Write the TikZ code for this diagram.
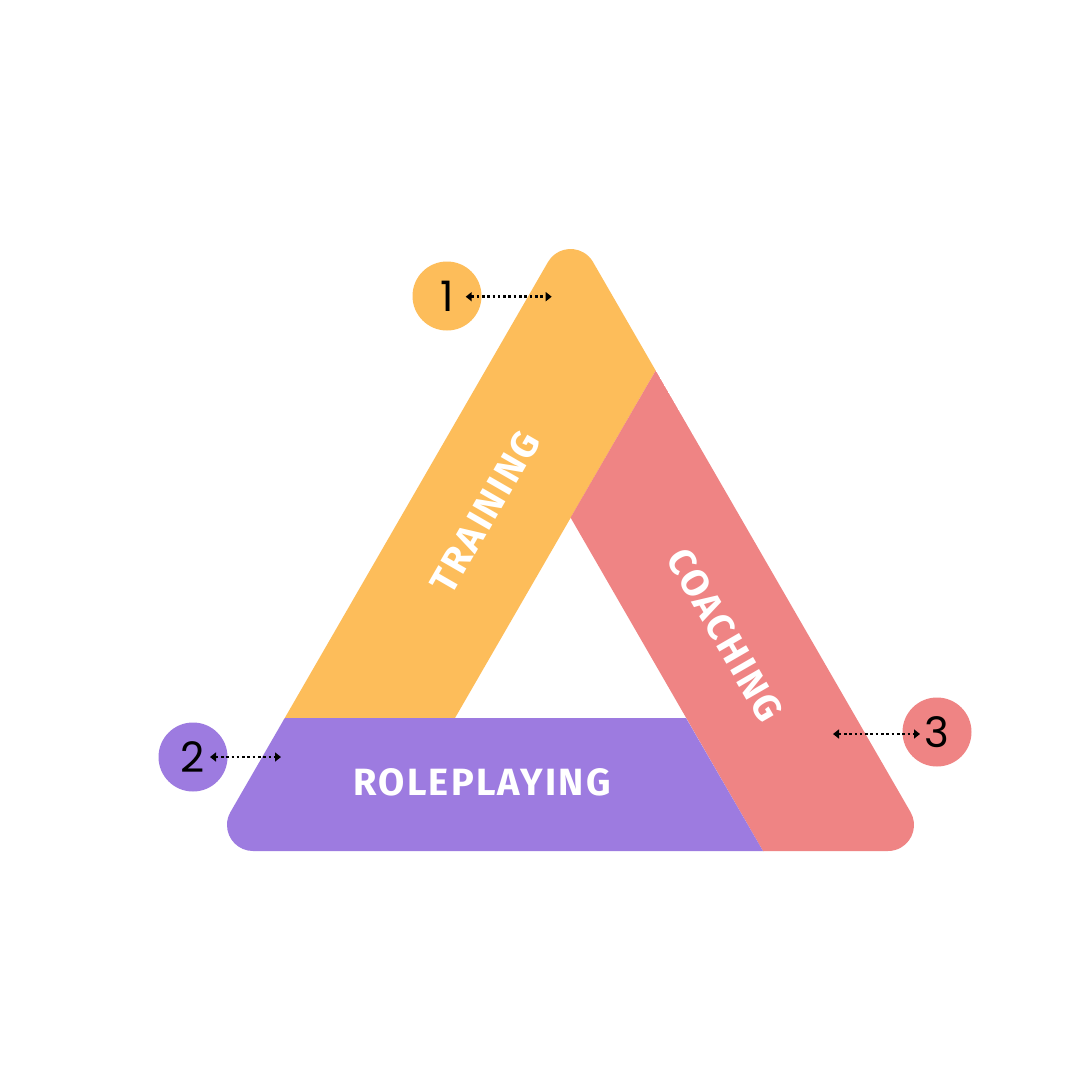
\documentclass[tikz,border=0pt]{standalone}
\usepackage{fontspec}
\newfontfamily\labfont{Fira Sans}[LetterSpace=6]
\newfontfamily\numfont{Poppins}
\usetikzlibrary{arrows.meta}
\definecolor{corange}{RGB}{253,189,90}
\definecolor{cpink}{RGB}{239,132,132}
\definecolor{cpurple}{RGB}{157,123,224}
\begin{document}
\begin{tikzpicture}[x=1pt,y=-1pt,
  lab/.style={text=white,font=\labfont\bfseries\fontsize{38}{38}\selectfont,inner sep=0pt},
  num/.style={circle,minimum size=69pt,inner sep=0pt,font=\numfont\fontsize{42}{42}\selectfont},
  ptr/.style={line width=2.6pt,dash pattern=on 2.6pt off 2.7pt,
    {Triangle[length=6pt,width=9pt]}-{Triangle[length=6pt,width=9pt]}}]
\useasboundingbox[fill=white] (0,0) rectangle (1080,1080);
% triangle bands
\begin{scope}
  \clip (593,262) -- (910.5,812) arc[start angle=-30,end angle=90,radius=26]
        -- (253,851) arc[start angle=90,end angle=210,radius=26]
        -- (548,262) arc[start angle=210,end angle=330,radius=26] -- cycle;
  \fill[corange] (570.5,150) -- (130,910) -- (285,718) -- (455,718) -- (655.8,370.4) -- (620,150) -- cycle;
  \fill[cpink] (655.8,370.4) -- (1000,960) -- (763,851) -- (570.6,517.6) -- cycle;
  \fill[cpink] (763,851) -- (1000,960) -- (763,960) -- cycle;
  \fill[cpurple] (285,718) -- (686,718) -- (763,851) -- (763,900) -- (150,900) -- cycle;
\end{scope}
% labels
\node[lab,rotate=60] (training) at (485,512) {TRAINING};
\node[lab,rotate=-60] (coaching) at (725,635) {COACHING};
\node[lab] (roleplaying) at (482,782) {ROLEPLAYING};
% numbered circles
\node[num,fill=corange] (n1) at (447,296) {1};
\node[num,fill=cpurple] (n2) at (193,757) {2};
\node[num,fill=cpink] (n3) at (937,732) {3};
% pointers
\coordinate (a1l) at (465.7,296.7);
\coordinate (a1r) at (551.7,296.7);
\coordinate (a2l) at (210,757);
\coordinate (a2r) at (281,757);
\coordinate (a3l) at (833,734);
\coordinate (a3r) at (920,734);
\draw[ptr] (a1l) -- (a1r);
\draw[ptr] (a2l) -- (a2r);
\draw[ptr] (a3l) -- (a3r);
\end{tikzpicture}
\end{document}
